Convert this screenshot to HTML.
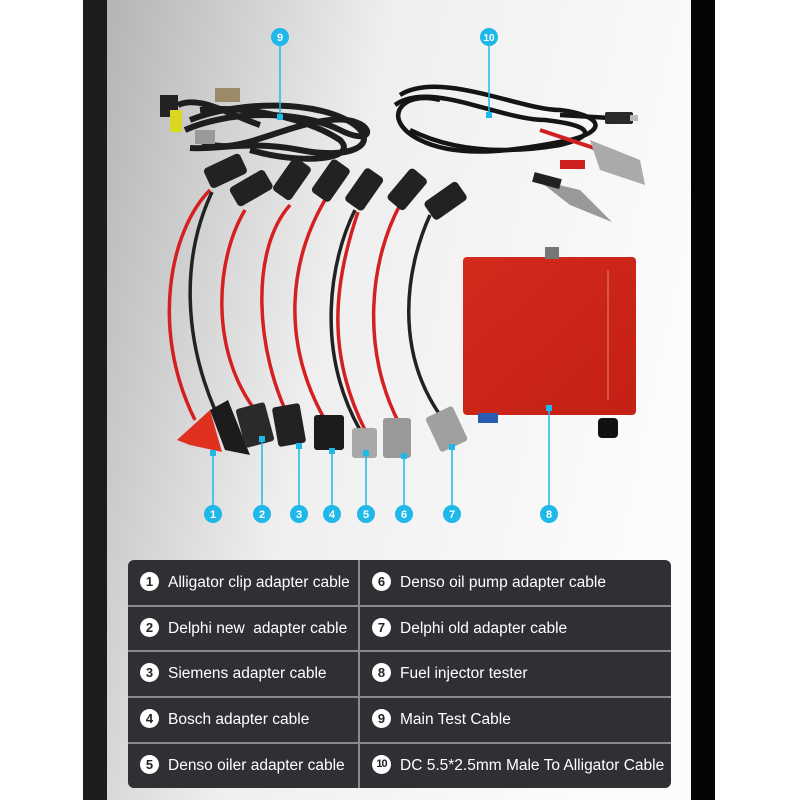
<!DOCTYPE html>
<html><head><meta charset="utf-8"><style>
html,body{margin:0;padding:0;background:#fff;}
body{width:800px;height:800px;position:relative;overflow:hidden;font-family:"Liberation Sans",sans-serif;}
.tbl{position:absolute;left:128px;top:560px;width:543px;height:228px;background:#2f3034;border-radius:6px;overflow:hidden;}
.cell{position:absolute;height:44px;color:#fff;font-size:15.5px;line-height:44px;}
.num{display:inline-block;width:19px;height:19px;border-radius:50%;background:#fff;color:#222;font-weight:bold;font-size:13px;line-height:19px;text-align:center;vertical-align:middle;margin:-3px 9px 0 12px;}
.n10{font-size:11px;letter-spacing:-1px;}
</style></head><body>
<svg width="800" height="800" style="position:absolute;left:0;top:0">
<defs>
<linearGradient id="bg" x1="0" y1="0" x2="1" y2="0.3">
<stop offset="0" stop-color="#b4b4b4"/><stop offset="0.45" stop-color="#efefef"/><stop offset="1" stop-color="#fbfbfb"/></linearGradient>
<linearGradient id="box" x1="0" y1="0" x2="1" y2="1"><stop offset="0" stop-color="#d32a1c"/><stop offset="1" stop-color="#c42015"/></linearGradient>
</defs>
<rect x="83" y="0" width="24" height="800" fill="#1c1c1c"/>
<rect x="107" y="0" width="585" height="800" fill="url(#bg)"/>
<rect x="691" y="0" width="24" height="800" fill="#050505"/>
<g fill="none" stroke="#1e1e1e" stroke-width="6">
<path d="M185 130 C230 110 300 110 340 130 C380 150 375 115 330 120 C280 125 230 160 200 140"/>
<path d="M190 120 C240 100 320 100 355 125 C380 145 350 160 300 150 C250 140 215 150 190 148"/>
<path d="M200 110 C250 105 310 120 340 140 C360 160 300 165 250 150"/>
<path d="M178 105 C200 95 230 115 260 125"/>
</g>
<rect x="160" y="95" width="18" height="22" fill="#222"/><rect x="170" y="110" width="12" height="22" fill="#d8d820"/>
<rect x="215" y="88" width="25" height="14" fill="#9a8a6a"/><rect x="195" y="130" width="20" height="14" fill="#999"/>
<g fill="none" stroke="#151515" stroke-width="4.5">
<path d="M400 95 C440 70 520 110 560 110 C600 115 610 130 570 140 C520 150 460 160 420 140 C380 120 400 90 440 100"/>
<path d="M395 105 C430 80 500 120 545 120 C590 125 600 135 560 145 C500 155 450 150 410 130"/>
<path d="M560 115 L610 118"/>
</g>
<rect x="605" y="112" width="28" height="12" rx="2" fill="#2a2a2a"/><rect x="630" y="115" width="8" height="6" fill="#bbb"/>
<path d="M540 130 L600 150" stroke="#d02020" stroke-width="4"/>
<path d="M590 140 L640 160 L645 185 L600 170 Z" fill="#aaa"/>
<path d="M538 180 L580 190 L612 222 L570 205 Z" fill="#999"/>
<rect x="533" y="175" width="28" height="10" fill="#222" transform="rotate(15 545 180)"/>
<rect x="560" y="160" width="25" height="9" fill="#d02020"/>
<g fill="none" stroke-width="3.5">
<path d="M210 190 C170 230 150 330 195 420" stroke="#d42020"/>
<path d="M212 192 C180 260 185 340 215 410" stroke="#222"/>
<path d="M245 210 C215 260 210 350 255 410" stroke="#d42020"/>
<path d="M290 205 C250 250 255 350 290 420" stroke="#d42020"/>
<path d="M325 200 C290 260 280 340 325 420" stroke="#d42020"/>
<path d="M355 210 C330 260 315 350 360 430" stroke="#222"/>
<path d="M358 212 C335 280 325 350 365 430" stroke="#d42020"/>
<path d="M400 205 C370 260 360 350 400 425" stroke="#d42020"/>
<path d="M430 215 C405 270 395 350 440 415" stroke="#222"/>
</g>
<g fill="#222">
<rect x="205" y="160" width="40" height="22" rx="4" transform="rotate(-25 225 170)"/>
<rect x="232" y="178" width="40" height="22" rx="4" transform="rotate(-30 250 190)"/>
<rect x="272" y="170" width="40" height="22" rx="4" transform="rotate(-55 290 180)"/>
<rect x="310" y="170" width="40" height="22" rx="4" transform="rotate(-55 330 180)"/>
<rect x="345" y="178" width="40" height="22" rx="4" transform="rotate(-55 365 190)"/>
<rect x="388" y="178" width="40" height="22" rx="4" transform="rotate(-50 408 190)"/>
<rect x="425" y="190" width="40" height="22" rx="4" transform="rotate(-35 445 200)"/>
</g>
<path d="M177 440 L210 410 L222 452 L190 445 Z" fill="#e03020"/>
<path d="M210 410 L228 400 L250 455 L225 450 Z" fill="#1c1c1c"/>
<rect x="240" y="405" width="30" height="40" rx="3" fill="#2a2a2a" transform="rotate(-15 255 425)"/>
<rect x="275" y="405" width="28" height="40" rx="3" fill="#222" transform="rotate(-10 289 425)"/>
<rect x="314" y="415" width="30" height="35" rx="3" fill="#1c1c1c"/>
<rect x="352" y="428" width="25" height="30" rx="3" fill="#a8a8a8"/>
<rect x="383" y="418" width="28" height="40" rx="3" fill="#999"/>
<rect x="432" y="410" width="30" height="38" rx="3" fill="#a0a0a0" transform="rotate(-25 447 430)"/>
<rect x="463" y="257" width="173" height="158" rx="4" fill="url(#box)"/>
<rect x="545" y="247" width="14" height="12" fill="#777"/>
<rect x="478" y="413" width="20" height="10" fill="#2a5db0"/>
<rect x="598" y="418" width="20" height="20" rx="4" fill="#111"/>
<line x1="608" y1="270" x2="608" y2="400" stroke="#f0c0b8" stroke-width="0.6"/>
<g stroke="#1fb8e8" stroke-width="1.5">
<line x1="280" y1="37" x2="280" y2="120"/><line x1="489" y1="37" x2="489" y2="115"/>
<line x1="213" y1="452" x2="213" y2="513"/><line x1="262" y1="438" x2="262" y2="513"/>
<line x1="299" y1="445" x2="299" y2="513"/><line x1="332" y1="450" x2="332" y2="513"/>
<line x1="366" y1="452" x2="366" y2="513"/><line x1="404" y1="455" x2="404" y2="513"/>
<line x1="452" y1="446" x2="452" y2="513"/><line x1="549" y1="407" x2="549" y2="513"/>
</g>
<g fill="#1fb8e8">
<rect x="277" y="114" width="6" height="6"/><rect x="486" y="112" width="6" height="6"/>
<rect x="210" y="450" width="6" height="6"/><rect x="259" y="436" width="6" height="6"/><rect x="296" y="443" width="6" height="6"/><rect x="329" y="448" width="6" height="6"/><rect x="363" y="450" width="6" height="6"/><rect x="401" y="453" width="6" height="6"/><rect x="449" y="444" width="6" height="6"/><rect x="546" y="405" width="6" height="6"/>
<circle cx="280" cy="37" r="9"/><circle cx="489" cy="37" r="9"/>
<circle cx="213" cy="514" r="9"/><circle cx="262" cy="514" r="9"/><circle cx="299" cy="514" r="9"/><circle cx="332" cy="514" r="9"/><circle cx="366" cy="514" r="9"/><circle cx="404" cy="514" r="9"/><circle cx="452" cy="514" r="9"/><circle cx="549" cy="514" r="9"/>
</g>
<g fill="#fff" font-family="Liberation Sans,sans-serif" font-size="11" font-weight="bold" text-anchor="middle">
<text x="280" y="41">9</text><text x="489" y="41" font-size="10">10</text>
<text x="213" y="518">1</text><text x="262" y="518">2</text><text x="299" y="518">3</text><text x="332" y="518">4</text><text x="366" y="518">5</text><text x="404" y="518">6</text><text x="452" y="518">7</text><text x="549" y="518">8</text>
</g>
</svg>
<div class="tbl">
<div style="position:absolute;left:230px;top:0;width:2px;height:228px;background:#8a8a8a"></div>
<div style="position:absolute;left:0;top:45px;width:543px;height:2px;background:#8a8a8a"></div>
<div style="position:absolute;left:0;top:90px;width:543px;height:2px;background:#8a8a8a"></div>
<div style="position:absolute;left:0;top:136px;width:543px;height:2px;background:#8a8a8a"></div>
<div style="position:absolute;left:0;top:182px;width:543px;height:2px;background:#8a8a8a"></div>
<div class="cell" style="left:0;top:1px"><span class="num">1</span>Alligator clip adapter cable</div>
<div class="cell" style="left:0;top:47px"><span class="num">2</span>Delphi new&nbsp; adapter cable</div>
<div class="cell" style="left:0;top:92px"><span class="num">3</span>Siemens adapter cable</div>
<div class="cell" style="left:0;top:138px"><span class="num">4</span>Bosch adapter cable</div>
<div class="cell" style="left:0;top:184px"><span class="num">5</span>Denso oiler adapter cable</div>
<div class="cell" style="left:232px;top:1px"><span class="num">6</span>Denso oil pump adapter cable</div>
<div class="cell" style="left:232px;top:47px"><span class="num">7</span>Delphi old adapter cable</div>
<div class="cell" style="left:232px;top:92px"><span class="num">8</span>Fuel injector tester</div>
<div class="cell" style="left:232px;top:138px"><span class="num">9</span>Main Test Cable</div>
<div class="cell" style="left:232px;top:184px"><span class="num n10">10</span>DC 5.5*2.5mm Male To Alligator Cable</div>
</div>
</body></html>
